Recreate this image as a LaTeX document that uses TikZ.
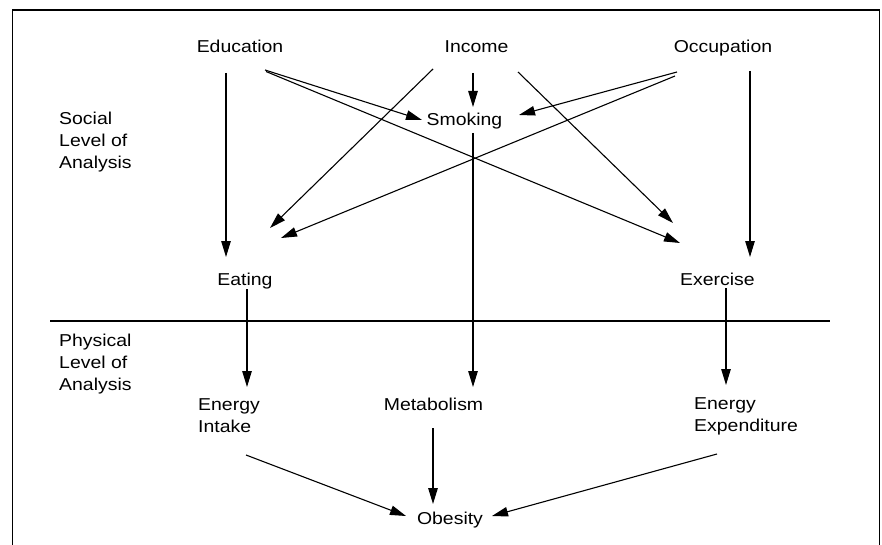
\documentclass[tikz,border=0pt]{standalone}
\usepackage{fontspec}
\setmainfont{Liberation Sans}[FakeStretch=1.13]
\usetikzlibrary{arrows.meta}
\begin{document}
\begin{tikzpicture}[x=1pt,y=-1pt,
  lbl/.style={inner sep=0pt,anchor=base},
  ml/.style={inner sep=0pt,align=left,anchor=north west},
  arr/.style={line width=1.1pt,-{Triangle[length=16pt,width=9.5pt]}},
  font=\fontsize{17.2}{22}\selectfont]
\useasboundingbox (0,0) rectangle (882,545);
\draw[line width=1.3pt] (12.5,545) -- (12.5,10) -- (879.5,10) -- (879.5,545);
\draw[line width=1.1pt] (50,321) -- (830,321);

\node[lbl] (edu) at (240,52.5) {Education};
\node[lbl] (inc) at (476.5,52.5) {Income};
\node[lbl] (occ) at (723,52.5) {Occupation};
\node[lbl] (smk) at (464.5,126) {Smoking};
\node[lbl] (eat) at (245,285) {Eating};
\node[lbl] (exe) at (717.5,285) {Exercise};
\node[lbl] (met) at (433.5,410) {Metabolism};
\node[lbl] (obe) at (450,524) {Obesity};
\node[ml] (ein) at (198,398) {Energy\\Intake};
\node[ml] (eex) at (694,397) {Energy\\Expenditure};
\node[ml] (soc) at (59,112) {Social\\Level of\\Analysis};
\node[ml] (phy) at (59,334) {Physical\\Level of\\Analysis};

% Education
\draw[arr] ([xshift=-14pt,yshift=-20.5pt]edu.base) -- ([xshift=-19pt,yshift=28pt]eat.base);
\draw[arr] ([xshift=25pt,yshift=-17.5pt]edu.base) -- ([xshift=-42.5pt,yshift=6pt]smk.base);
\draw[arr] ([xshift=26pt,yshift=-19pt]edu.base) -- ([xshift=-37.5pt,yshift=42pt]exe.base);
% Income
\draw[arr] ([xshift=-3.5pt,yshift=-20.5pt]inc.base) -- ([xshift=8.5pt,yshift=19pt]smk.base);
\draw[arr] ([xshift=-43.5pt,yshift=-16.5pt]inc.base) -- ([xshift=25pt,yshift=57pt]eat.base);
\draw[arr] ([xshift=41.5pt,yshift=-19.5pt]inc.base) -- ([xshift=-44.5pt,yshift=62pt]exe.base);
% Occupation
\draw[arr] ([xshift=-46pt,yshift=-19.5pt]occ.base) -- ([xshift=54.5pt,yshift=11pt]smk.base);
\draw[arr] ([xshift=-48pt,yshift=-23.5pt]occ.base) -- ([xshift=36pt,yshift=47pt]eat.base);
\draw[arr] ([xshift=27pt,yshift=-18.5pt]occ.base) -- ([xshift=32.5pt,yshift=28pt]exe.base);
% down the middle
\draw[arr] ([xshift=8.5pt,yshift=-7pt]smk.base) -- ([xshift=39.5pt,yshift=23pt]met.base);
\draw[arr] ([xshift=2pt,yshift=-4pt]eat.base) -- ([xshift=49pt,yshift=11pt]ein.north west);
\draw[arr] ([xshift=8.5pt,yshift=-3pt]exe.base) -- ([xshift=32pt,yshift=12pt]eex.north west);
% to obesity
\draw[arr] ([xshift=48pt,yshift=-57pt]ein.north west) -- ([xshift=-44pt,yshift=8pt]obe.base);
\draw[arr,line width=1.4pt] ([xshift=-0.5pt,yshift=-18pt]met.base) -- ([xshift=-17pt,yshift=20pt]obe.base);
\draw[arr] ([xshift=23pt,yshift=-57pt]eex.north west) -- ([xshift=42pt,yshift=8pt]obe.base);
\end{tikzpicture}
\end{document}
